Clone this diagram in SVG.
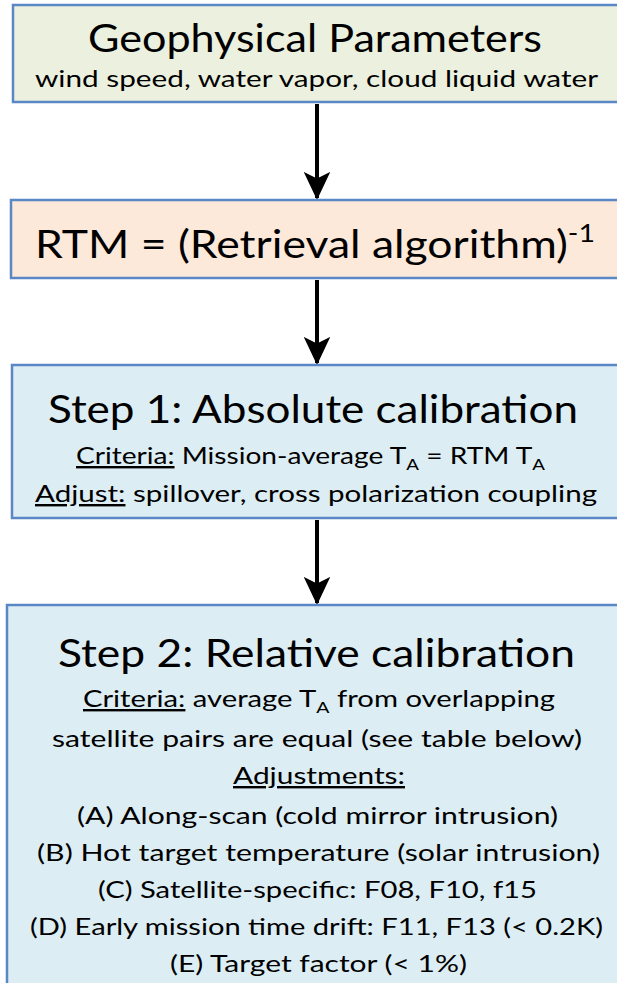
<svg xmlns="http://www.w3.org/2000/svg" width="617" height="983" viewBox="0 0 617 983">
<defs>
<style>
.box{stroke:#5A87C6;stroke-width:2.5}
.t{font-family:"Lato","Liberation Sans",sans-serif;fill:#000;text-anchor:middle}
.big{font-size:39px}
.sm{font-size:24px}
.u{text-decoration:underline}
.conn{stroke:#000;stroke-width:4;fill:none}
</style>
<marker id="ah" markerWidth="7" markerHeight="6.6" refX="6.5" refY="3.3" orient="auto" markerUnits="strokeWidth">
<path d="M0,0 L7,3.3 L0,6.6 L1.6,3.3 Z" fill="#000"/>
</marker>
</defs>
<rect width="617" height="983" fill="#fff"/>
<g id="connectors">
<line class="conn" x1="317" y1="104" x2="317" y2="198" marker-end="url(#ah)"/>
<line class="conn" x1="317" y1="280" x2="317" y2="363" marker-end="url(#ah)"/>
<line class="conn" x1="317" y1="520" x2="317" y2="603" marker-end="url(#ah)"/>
</g>
<g id="geophysical">
<rect class="box" x="13" y="5" width="620" height="97" fill="#EBF0DF"/>
<text class="t big" x="315" y="52" textLength="454" lengthAdjust="spacingAndGlyphs">Geophysical Parameters</text>
<text class="t sm" x="316.5" y="87" textLength="563" lengthAdjust="spacingAndGlyphs">wind speed, water vapor, cloud liquid water</text>
</g>
<g id="rtm">
<rect class="box" x="11" y="200" width="620" height="78" fill="#FDE9DA"/>
<text class="t big" x="315" y="258" textLength="560" lengthAdjust="spacingAndGlyphs">RTM = (Retrieval algorithm)<tspan font-size="25" dy="-16">-1</tspan></text>
</g>
<g id="step1">
<rect class="box" x="12" y="365" width="620" height="153" fill="#DCEDF3"/>
<text class="t big" x="313" y="423" textLength="530" lengthAdjust="spacingAndGlyphs">Step 1: Absolute calibration</text>
<text class="t sm" x="310.5" y="464" textLength="469" lengthAdjust="spacingAndGlyphs"><tspan class="u">Criteria:</tspan> Mission-average T<tspan font-size="16" dy="6">A</tspan><tspan dy="-6"> = RTM T</tspan><tspan font-size="16" dy="6">A</tspan></text>
<text class="t sm" x="316" y="502" textLength="562" lengthAdjust="spacingAndGlyphs"><tspan class="u">Adjust:</tspan> spillover, cross polarization coupling</text>
</g>
<g id="step2">
<rect class="box" x="7" y="605" width="630" height="400" fill="#DCEDF3"/>
<text class="t big" x="316.5" y="667" textLength="517" lengthAdjust="spacingAndGlyphs">Step 2: Relative calibration</text>
<text class="t sm" x="319" y="707" textLength="472" lengthAdjust="spacingAndGlyphs"><tspan class="u">Criteria:</tspan> average T<tspan font-size="16" dy="6">A</tspan><tspan dy="-6"> from overlapping</tspan></text>
<text class="t sm" x="317" y="747" textLength="530" lengthAdjust="spacingAndGlyphs">satellite pairs are equal (see table below)</text>
<text class="t sm u" x="319" y="784" textLength="172" lengthAdjust="spacingAndGlyphs">Adjustments:</text>
<text class="t sm" x="317.5" y="824" textLength="481" lengthAdjust="spacingAndGlyphs">(A) Along-scan (cold mirror intrusion)</text>
<text class="t sm" x="318.5" y="861" textLength="563" lengthAdjust="spacingAndGlyphs">(B) Hot target temperature (solar intrusion)</text>
<text class="t sm" x="317.5" y="898" textLength="439" lengthAdjust="spacingAndGlyphs">(C) Satellite-specific: F08, F10, f15</text>
<text class="t sm" x="316.5" y="935" textLength="573" lengthAdjust="spacingAndGlyphs">(D) Early mission time drift: F11, F13 (&lt; 0.2K)</text>
<text class="t sm" x="318.5" y="972" textLength="297" lengthAdjust="spacingAndGlyphs">(E) Target factor (&lt; 1%)</text>
</g>
</svg>
